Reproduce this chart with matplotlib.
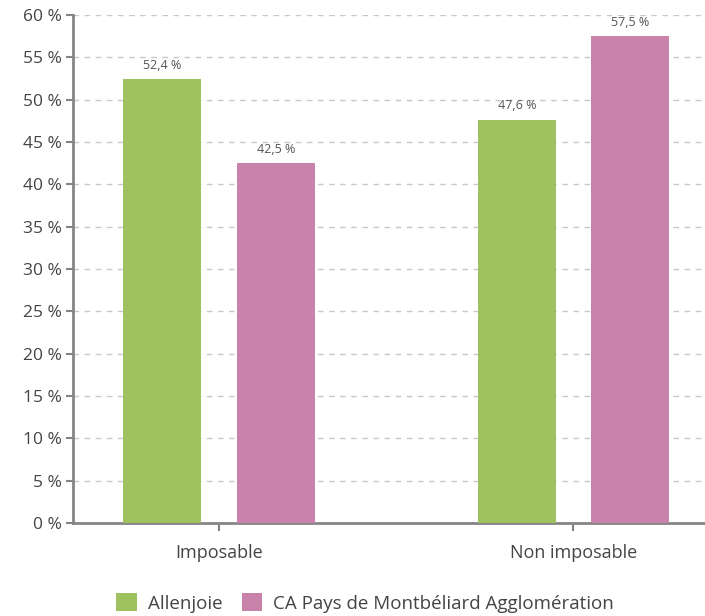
import numpy as np
import matplotlib.pyplot as plt
from matplotlib.ticker import FuncFormatter

plt.rcParams['font.family'] = ['Open Sans', 'DejaVu Sans']

categories = ['Imposable', 'Non imposable']
allenjoie = [52.4, 47.6]
ca_pays = [42.5, 57.5]
series_names = ['Allenjoie', 'CA Pays de Montbéliard Agglomération']

GREEN = '#A0C160'
PINK = '#C983AA'
AXIS = '#858585'

fig = plt.figure(figsize=(7.05, 6.16), dpi=100)
ax = fig.add_axes([0.1035, 0.151, 0.8965, 0.8246])

x = np.arange(len(categories))
w = 0.22
off = 0.16
b1 = ax.bar(x - off, allenjoie, w, color=GREEN, label=series_names[0], zorder=3)
b2 = ax.bar(x + off, ca_pays, w, color=PINK, label=series_names[1], zorder=3)

for bars, vals in [(b1, allenjoie), (b2, ca_pays)]:
    for b, v in zip(bars, vals):
        ax.text(b.get_x() + b.get_width() / 2, v + 0.9,
                f'{v:.1f} %'.replace('.', ','), ha='center', va='bottom',
                fontsize=9, color='#555555')

ax.set_xlim(-0.412, 1.371)
ax.set_ylim(0, 60)
ax.set_yticks(np.arange(0, 61, 5))
ax.yaxis.set_major_formatter(FuncFormatter(lambda v, p: f'{int(v)} %'))
ax.set_xticks(x)
ax.set_xticklabels(categories)

ax.grid(axis='y', linestyle=(0, (4, 4)), color='#C8C8C8', linewidth=1, zorder=0)
for s in ['top', 'right']:
    ax.spines[s].set_visible(False)
for s in ['left', 'bottom']:
    ax.spines[s].set_color(AXIS)
    ax.spines[s].set_linewidth(2)

ax.tick_params(axis='y', colors=AXIS, labelcolor='#444444', labelsize=12.5,
               length=5, width=1.5, pad=3)
ax.tick_params(axis='x', colors=AXIS, labelcolor='#444444', labelsize=13,
               length=6, width=1.5, pad=9)

fig.legend(handles=[b1, b2], loc='lower center', bbox_to_anchor=(0.518, -0.022),
           ncol=2, frameon=False, fontsize=13.5, handlelength=1.1,
           handleheight=1.1, handletextpad=0.6, columnspacing=1.0,
           labelcolor='#444444')

fig.savefig('out.png', dpi=100)
